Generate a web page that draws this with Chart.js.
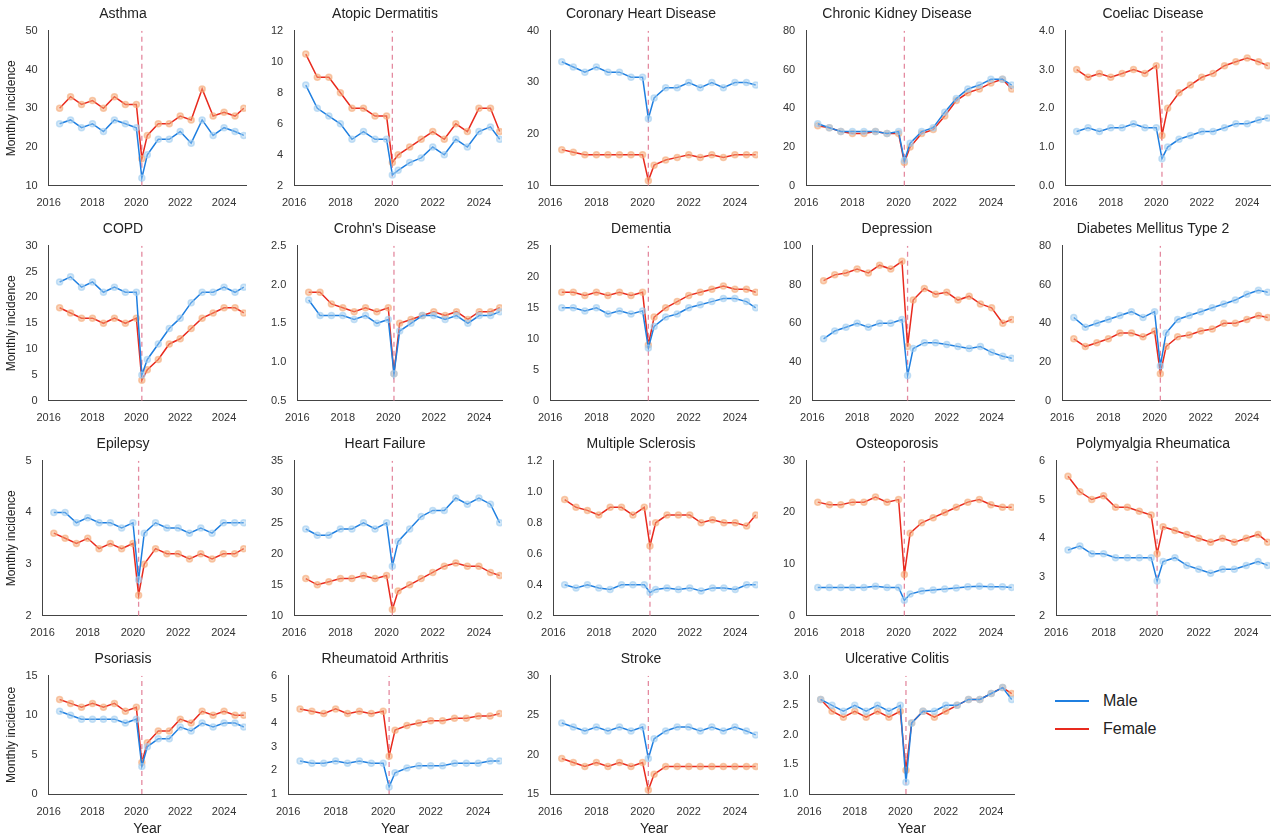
<!DOCTYPE html>
<html><head><meta charset="utf-8">
<script src="https://cdn.jsdelivr.net/npm/chart.js@4"></script>
<style>
body{margin:0;background:#fff;font-family:"Liberation Sans",Arial,sans-serif;overflow:hidden}
.p{position:absolute;width:256px;}
#leg{position:absolute;left:1055px;top:692px;font-size:16px;color:#222}
#leg div{display:flex;align-items:center;margin-bottom:10px}
#leg span{display:inline-block;width:34px;height:2px;margin-right:14px}
</style></head><body>
<div id="leg"><div><span style="background:#1f7fe0"></span>Male</div><div><span style="background:#e82a1e"></span>Female</div></div>
<script>
const years=[2016.5,2017,2017.5,2018,2018.5,2019,2019.5,2020,2020.25,2020.5,2021,2021.5,2022,2022.5,2023,2023.5,2024,2024.5,2024.9];
const titles=["Asthma","Atopic Dermatitis","Coronary Heart Disease","Chronic Kidney Disease","Coeliac Disease","COPD","Crohn's Disease","Dementia","Depression","Diabetes Mellitus Type 2","Epilepsy","Heart Failure","Multiple Sclerosis","Osteoporosis","Polymyalgia Rheumatica","Psoriasis","Rheumatoid Arthritis","Stroke","Ulcerative Colitis"];
const yRanges=[[10,50,10],[2,12,2],[10,40,10],[0,80,20],[0,4,1],[0,30,5],[0.5,2.5,0.5],[0,25,5],[20,100,20],[0,80,20],[2,5,1],[10,35,5],[0.2,1.2,0.2],[0,30,10],[2,6,1],[0,15,5],[1,6,1],[15,30,5],[1,3,0.5]];
const yDecimals=[0,0,0,0,1,0,1,0,0,0,0,0,1,0,0,0,0,0,1];
const male=[
[26,27,25,26,24,27,26,25,12,18,22,22,24,21,27,23,25,24,23],
[8.5,7,6.5,6,5,5.5,5,5,2.7,3,3.5,3.8,4.5,4,5,4.5,5.5,5.8,5],
[34,33,32,33,32,32,31,31,23,27,29,29,30,29,30,29,30,30,29.5],
[32,30,28,28,28,28,27,28,13,22,28,30,38,45,50,52,55,55,52],
[1.4,1.5,1.4,1.5,1.5,1.6,1.5,1.5,0.7,1.0,1.2,1.3,1.4,1.4,1.5,1.6,1.6,1.7,1.75],
[23,24,22,23,21,22,21,21,5,8,11,14,16,19,21,21,22,21,22],
[1.8,1.6,1.6,1.6,1.55,1.6,1.5,1.55,0.85,1.4,1.5,1.6,1.6,1.55,1.6,1.5,1.6,1.6,1.65],
[15,15,14.5,15,14,14.5,14,14.5,8.5,12,13.5,14,15,15.5,16,16.5,16.5,16,15],
[52,56,58,60,58,60,60,62,33,47,50,50,49,48,47,48,45,43,42],
[43,38,40,42,44,46,43,46,18,35,42,44,46,48,50,52,55,57,56],
[4.0,4.0,3.8,3.9,3.8,3.8,3.7,3.8,2.7,3.6,3.8,3.7,3.7,3.6,3.7,3.6,3.8,3.8,3.8],
[24,23,23,24,24,25,24,25,18,22,24,26,27,27,29,28,29,28,25],
[0.4,0.38,0.4,0.38,0.37,0.4,0.4,0.4,0.35,0.37,0.38,0.37,0.38,0.36,0.38,0.38,0.37,0.4,0.4],
[5.5,5.5,5.5,5.5,5.5,5.7,5.5,5.5,3,4.2,4.8,5,5.2,5.4,5.6,5.7,5.6,5.6,5.5],
[3.7,3.8,3.6,3.6,3.5,3.5,3.5,3.5,2.9,3.4,3.5,3.3,3.2,3.1,3.2,3.2,3.3,3.4,3.3],
[10.5,10,9.5,9.5,9.5,9.5,9,9.5,3.5,6,7,7,8.5,8,9,8.5,9,9,8.5],
[2.4,2.3,2.3,2.4,2.3,2.4,2.3,2.3,1.3,1.9,2.1,2.2,2.2,2.2,2.3,2.3,2.3,2.4,2.4],
[24,23.5,23,23.5,23,23.5,23,23.5,19.5,22,23,23.5,23.5,23,23.5,23,23.5,23,22.5],
[2.6,2.5,2.4,2.5,2.4,2.5,2.4,2.5,1.2,2.2,2.4,2.4,2.5,2.5,2.6,2.6,2.7,2.8,2.6]];
const female=[
[30,33,31,32,30,33,31,31,17,23,26,26,28,27,35,28,29,28,30],
[10.5,9,9,8,7,7,6.5,6.5,3.5,4,4.5,5,5.5,5,6,5.5,7,7,5.5],
[17,16.5,16,16,16,16,16,16,11,14,15,15.5,16,15.5,16,15.5,16,16,16],
[31,30,28,27,27,28,27,27,12,20,27,29,36,44,48,50,53,55,50],
[3.0,2.8,2.9,2.8,2.9,3.0,2.9,3.1,1.3,2.0,2.4,2.6,2.8,2.9,3.1,3.2,3.3,3.2,3.1],
[18,17,16,16,15,16,15,16,4,6,8,11,12,14,16,17,18,18,17],
[1.9,1.9,1.75,1.7,1.65,1.7,1.65,1.7,0.85,1.5,1.55,1.6,1.65,1.6,1.65,1.55,1.65,1.65,1.7],
[17.5,17.5,17,17.5,17,17.5,17,17.5,9,13.5,15,16,17,17.5,18,18.5,18,18,17.5],
[82,85,86,88,86,90,88,92,48,72,78,75,76,72,74,70,68,60,62],
[32,28,30,32,35,35,33,36,14,28,33,34,36,37,40,40,42,44,43],
[3.6,3.5,3.4,3.5,3.3,3.4,3.3,3.4,2.4,3.0,3.3,3.2,3.2,3.1,3.2,3.1,3.2,3.2,3.3],
[16,15,15.5,16,16,16.5,16,16.5,11,14,15,16,17,18,18.5,18,18,17,16.5],
[0.95,0.9,0.88,0.85,0.9,0.9,0.85,0.9,0.65,0.8,0.85,0.85,0.85,0.8,0.82,0.8,0.8,0.78,0.85],
[22,21.5,21.5,22,22,23,22,22.5,8,16,18,19,20,21,22,22.5,21.5,21,21],
[5.6,5.2,5.0,5.1,4.8,4.8,4.7,4.6,3.6,4.3,4.2,4.1,4.0,3.9,4.0,3.9,4.0,4.1,3.9],
[12,11.5,11,11.5,11,11.5,10.5,11,4,6.5,8,8,9.5,9,10.5,10,10.5,10,10],
[4.6,4.5,4.4,4.6,4.4,4.5,4.4,4.5,2.6,3.7,3.9,4.0,4.1,4.1,4.2,4.2,4.3,4.3,4.4],
[19.5,19,18.5,19,18.5,19,18.5,19,15.5,17.5,18.5,18.5,18.5,18.5,18.5,18.5,18.5,18.5,18.5],
[2.6,2.4,2.3,2.4,2.3,2.4,2.3,2.4,1.4,2.2,2.4,2.3,2.4,2.5,2.6,2.6,2.7,2.8,2.7]];
const xTicks=[2016,2018,2020,2022,2024];
const breakYear=2020.25;
Chart.defaults.font.family='"Liberation Sans", Arial, sans-serif';
Chart.defaults.color='#333';
Chart.defaults.animation=false;
const tops=[0,215,430,645], heights=[213,213,213,193];
titles.forEach((t,i)=>{
  const col=i%5,row=Math.floor(i/5);
  const last=row===3;
  const d=document.createElement('div');d.className='p';
  d.style.left=(col*256)+'px';d.style.top=tops[row]+'px';d.style.height=heights[row]+'px';
  const c=document.createElement('canvas');d.appendChild(c);document.body.appendChild(d);
  const [mn,mx,st]=yRanges[i];
  const pts=a=>a.map((v,k)=>({x:years[k],y:v}));
  new Chart(c,{type:'line',data:{datasets:[
    {data:pts(male[i]),borderColor:'#1f7fe0',borderWidth:1.5,pointRadius:3,pointBackgroundColor:'rgba(160,205,240,0.45)',pointBorderColor:'rgba(160,205,240,0.6)'},
    {data:pts(female[i]),borderColor:'#e82a1e',borderWidth:1.5,pointRadius:3,pointBackgroundColor:'rgba(245,170,120,0.5)',pointBorderColor:'rgba(245,170,120,0.6)'},
    {data:[{x:breakYear,y:mn},{x:breakYear,y:mx}],borderColor:'#e48aa0',borderWidth:1.3,borderDash:[5,4],pointRadius:0}
  ]},options:{responsive:true,maintainAspectRatio:false,
    layout:{padding:{right:10,left:col===0?0:12}},
    plugins:{legend:{display:false},tooltip:{enabled:false},
      title:{display:true,text:t,font:{size:14,weight:'normal'},color:'#222',padding:{top:6,bottom:8}}},
    scales:{x:{type:'linear',min:2016,max:2025,grid:{display:false},border:{color:'#444'},
        afterBuildTicks:ax=>{ax.ticks=xTicks.map(v=>({value:v}));},
        ticks:{autoSkip:false,maxRotation:0,font:{size:11},callback:v=>String(v)},
        title:{display:last,text:'Year',font:{size:14},color:'#222',padding:0}},
      y:{min:mn,max:mx,grid:{display:false},border:{color:'#444'},
        ticks:{stepSize:st,font:{size:11},callback:v=>v.toFixed(yDecimals[i])},
        title:{display:col===0,text:'Monthly incidence',font:{size:12},color:'#222'}}}}});
});
</script></body></html>
